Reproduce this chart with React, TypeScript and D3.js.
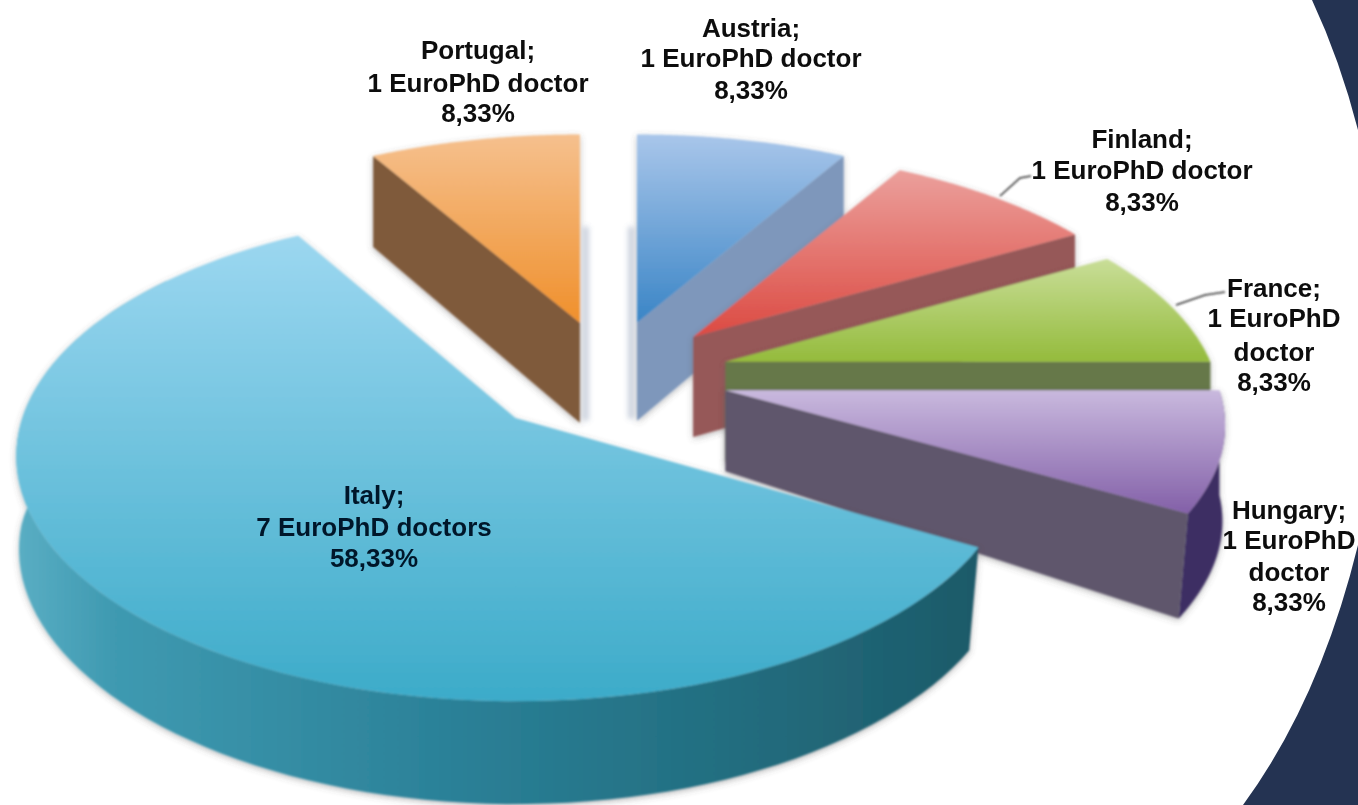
import React from "react";
import * as d3 from "d3";

// ---- data, clockwise from twelve o'clock
const countries = ["Austria", "Finland", "France", "Hungary", "Italy", "Portugal"];
const doctors = [1, 1, 1, 1, 7, 1];

// ---- projection parameters per slice
const explodeX = [0.95, 1.02, 1.03, 1.03, 1.11, 0.92];
const explodeY = [1, 1, 1, 1, 1.08, 1];
const radiusX = [485, 485, 485, 494, 493, 485];
const radiusY = [226, 226, 226, 228, 239, 226];
const perspective = [0.2, 0.2, 0.2, 0.15, 0.156, 0.2];
const apexDepth = [98, 100, 100, 81, 100, 100];
const rimDepth = [91, 95, 100, 105, 103, 91];
const drawOrder = [5, 0, 1, 2, 3, 4];

// ---- colours
const topLight = ["#a9c6ea", "#eba09c", "#c9de98", "#c9b9de", "#9cd7f0", "#f5c08e"];
const topDark = ["#3a85c6", "#dc4a42", "#94bb3c", "#8360a8", "#3cabc9", "#f0902c"];
const sideColor = ["#7e97bb", "#965858", "#66784a", "#5f566c", "#235f6f", "#7f5a3a"];
const rimColor = ["#7e97bb", "#965858", "#66784a", "#3e2f63", "", "#7f5a3a"];
const stripOffset = [-6, 0, 0, 0, 0, 6];

// ---- label layout: centre x, baselines
const labelX = [751, 1142, 1274, 1289, 374, 478];
const labelY = [
  [37, 67, 99],
  [148, 179, 211],
  [297, 327, 361, 391],
  [519, 549, 581, 611],
  [504, 536, 567],
  [59, 92, 122],
];
const labelWrap = [false, false, true, true, false, false];
const leaders = [
  null,
  [[1000, 196], [1020, 178], [1031, 176]],
  [[1176, 305], [1205, 295], [1225, 292]],
  null,
  null,
  null,
];

const W = 1358;
const H = 805;
const CX = 608;
const CY = 376;
const EX = 118;
const EY = 55;

const pie = d3.pie<number>().sort(null);
const arcs = pie(doctors);
const total = d3.sum(doctors);
const line = d3.line<[number, number]>();

const slices = arcs.map((a, i) => {
  const mid = (a.startAngle + a.endAngle) / 2;
  const ax = CX + Math.sin(mid) * EX * explodeX[i];
  const ay = CY - Math.cos(mid) * EY * explodeY[i];
  const project = (ang: number): [number, number] => {
    const s = -Math.cos(ang);
    const c = Math.sin(ang);
    const p = 1 / (1 - perspective[i] * s);
    return [ax + radiusX[i] * c * p, ay + radiusY[i] * s * p];
  };
  const lower = (ang: number): [number, number] => {
    const [x, y] = project(ang);
    const inset = 1 - 0.04 * Math.max(0, -Math.cos(ang));
    return [ax + (x - ax) * inset, y + rimDepth[i]];
  };
  return { i, a, ax, ay, project, lower };
});

function arcPts(f: (a: number) => [number, number], a0: number, a1: number) {
  const n = 90;
  return d3.range(n + 1).map((k) => f(a0 + ((a1 - a0) * k) / n));
}

function label(i: number): string[] {
  const n = doctors[i];
  const pct = ((n / total) * 100).toFixed(2).replace(".", ",") + "%";
  const name = countries[i] + ";";
  const noun = n > 1 ? "doctors" : "doctor";
  return labelWrap[i] ? [name, `${n} EuroPhD`, noun, pct] : [name, `${n} EuroPhD ${noun}`, pct];
}

function Slice({ s }: { s: (typeof slices)[number] }) {
  const { i, a, ax, ay, project, lower } = s;
  const topPts: [number, number][] = [[ax, ay], ...arcPts(project, a.startAngle, a.endAngle)];
  const top = line(topPts) + "Z";
  const onRight = a.endAngle <= Math.PI;
  const isLarge = doctors[i] > 1;
  const cutAng = onRight ? a.endAngle : a.startAngle;
  const ct = project(cutAng);
  const cb = lower(cutAng);
  const cut = line([[ax, ay], ct, cb, [ax, ay + apexDepth[i]]]) + "Z";
  const showCut = !isLarge;
  const rimStart = a.startAngle;
  const rimEnd = isLarge ? a.startAngle + Math.PI * 1.05 : a.endAngle;
  const showRim = isLarge || i === 3;
  const rim = line([...arcPts(project, rimStart, rimEnd), ...arcPts(lower, rimStart, rimEnd).reverse()]) + "Z";
  return (
    <g>
      {stripOffset[i] !== 0 && (
        <path
          d={line([
            [ax + stripOffset[i], ay - 96],
            [ax + stripOffset[i], ay + apexDepth[i] - 2],
          ])!}
          stroke="#8a9ab6"
          strokeWidth={6}
          opacity={0.45}
          filter="url(#strip)"
        />
      )}
      <g filter="url(#shadow)">
        {showRim && <path d={rim} fill={isLarge ? "url(#rimItaly)" : rimColor[i]} />}
        {showCut && <path d={cut} fill={sideColor[i]} />}
        <path d={top} fill={`url(#top${i})`} />
      </g>
    </g>
  );
}

export default function App() {
  return (
    <svg
      width={W}
      height={H}
      viewBox={`0 0 ${W} ${H}`}
      style={{ position: "absolute", left: 0, top: 0, display: "block", background: "#fff" }}
    >
      <defs>
        <filter id="shadow" x="-10%" y="-10%" width="120%" height="120%">
          <feDropShadow dx="0" dy="2" stdDeviation="3" floodColor="#555" floodOpacity="0.4" />
        </filter>
        <filter id="strip" filterUnits="userSpaceOnUse" x="0" y="0" width={W} height={H}>
          <feGaussianBlur stdDeviation="2.5" />
        </filter>
        <filter id="soft" filterUnits="userSpaceOnUse" x="0" y="0" width={W} height={H}>
          <feGaussianBlur stdDeviation="0.8" />
        </filter>
        <filter id="softText" filterUnits="userSpaceOnUse" x="0" y="0" width={W} height={H}>
          <feGaussianBlur stdDeviation="0.5" />
        </filter>
        {slices.map((s) => {
          const pts = arcPts(s.project, s.a.startAngle, s.a.endAngle);
          const y0 = d3.min(pts, (p) => p[1])!;
          const y1 = d3.max([...pts.map((p) => p[1]), s.ay])!;
          return (
            <linearGradient key={s.i} id={`top${s.i}`} gradientUnits="userSpaceOnUse" x1="0" x2="0" y1={y0} y2={y1}>
              <stop offset="0" stopColor={topLight[s.i]} />
              <stop offset="1" stopColor={topDark[s.i]} />
            </linearGradient>
          );
        })}
        <linearGradient id="rimItaly" gradientUnits="userSpaceOnUse" x1="16" x2="975" y1="0" y2="0">
          <stop offset="0" stopColor="#5aaec4" />
          <stop offset="0.1" stopColor="#3f9ab1" />
          <stop offset="0.45" stopColor="#2b8198" />
          <stop offset="0.8" stopColor="#216a7b" />
          <stop offset="1" stopColor="#1e5a69" />
        </linearGradient>
      </defs>
      <rect width={W} height={H} fill="#fff" />
      <path d="M1312,0 Q1340,60 1358,130 L1358,0 Z" fill="#243352" />
      <path d="M1358,545 Q1320,700 1243,805 L1358,805 Z" fill="#243352" />
      <g filter="url(#soft)">
        {drawOrder.map((i) => (
          <Slice key={i} s={slices[i]} />
        ))}
        {leaders.map((l, i) =>
          l ? <path key={i} d={line(l as [number, number][])!} fill="none" stroke="#333" strokeWidth={1.6} /> : null
        )}
      </g>
      <g filter="url(#softText)">
        {countries.map((_, i) => (
          <text
            key={i}
            textAnchor="middle"
            fontFamily="'Liberation Sans', Arial, sans-serif"
            fontWeight="bold"
            fontSize={26}
            fill={doctors[i] > 1 ? "#04182a" : "#0c0c0c"}
          >
            {label(i).map((t, k) => (
              <tspan key={k} x={labelX[i]} y={labelY[i][k]}>
                {t}
              </tspan>
            ))}
          </text>
        ))}
      </g>
    </svg>
  );
}
